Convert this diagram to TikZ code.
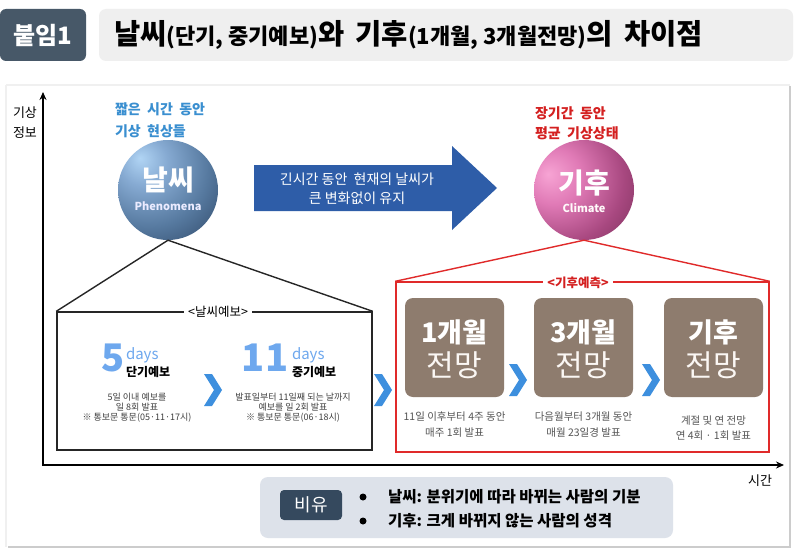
\documentclass[tikz,border=0pt]{standalone}
\usepackage{fontspec}
\setmainfont{Noto Sans CJK KR}
\usetikzlibrary{arrows.meta}
\definecolor{titledark}{HTML}{475868}
\definecolor{titlelight}{HTML}{EFEFEF}
\definecolor{skyblue}{HTML}{3A8FD0}
\definecolor{arrowblue}{HTML}{2E5DA8}
\definecolor{redline}{HTML}{E02A2A}
\definecolor{redtext}{HTML}{D42020}
\definecolor{brownbox}{HTML}{8E7C6E}
\definecolor{chevblue}{HTML}{3D8FDE}
\definecolor{daysblue}{HTML}{6EA8EE}
\definecolor{analog}{HTML}{DDE2EA}
\definecolor{analogdark}{HTML}{35495E}
\definecolor{captgray}{HTML}{555555}
\definecolor{sphBL}{HTML}{B0D4F4}
\definecolor{sphBX}{HTML}{86AAD2}
\definecolor{sphBM}{HTML}{56799F}
\definecolor{sphBD}{HTML}{1C304C}
\definecolor{sphPL}{HTML}{F7A4D4}
\definecolor{sphPX}{HTML}{E07AB6}
\definecolor{sphPM}{HTML}{A84880}
\definecolor{sphPD}{HTML}{5A2040}
\pgfdeclareradialshading{bluesph}{\pgfpoint{-14bp}{16bp}}{color(0bp)=(sphBL); color(12bp)=(sphBX); color(30bp)=(sphBM); color(56bp)=(sphBD); color(100bp)=(sphBD)}
\pgfdeclareradialshading{pinksph}{\pgfpoint{-18bp}{8bp}}{color(0bp)=(sphPL); color(14bp)=(sphPX); color(32bp)=(sphPM); color(58bp)=(sphPD); color(100bp)=(sphPD)}
\newcommand{\fsz}[2]{\fontsize{#1}{#2}\selectfont}
\tikzset{
  txt/.style={inner sep=0pt, outer sep=0pt},
  axisline/.style={line width=2.4pt, {Stealth[length=8pt,width=7pt]}-{Stealth[length=8pt,width=7pt]}},
  bline/.style={line width=1.4pt, black!85},
  rline/.style={line width=1.4pt, redline},
  brownbx/.style={fill=brownbox, rounded corners=8pt, minimum width=99pt, minimum height=99pt, inner sep=0pt},
  framelight/.style={line width=2pt, gray!12},
  frameshadow/.style={line width=2.5pt, gray!40},
  chevron/.style={fill=chevblue},
  caption/.style={txt, align=center, text=captgray},
}
\begin{document}
\begin{tikzpicture}[x=1pt,y=-1pt]
\useasboundingbox (0,0) rectangle (797,559);
\fill[white] (0,0) rectangle (797,559);
% frame
\draw[framelight] (6,85) -- (790,85);
\draw[framelight] (6,85) -- (6,547);
\draw[frameshadow] (790,86) -- (790,547) -- (8,547);
% title bar
\node[fill=titledark, rounded corners=6pt, minimum width=86pt, minimum height=52pt, inner sep=0pt] (tag) at (43,35) {};
\node[txt, text=white, font=\bfseries\fsz{24}{26}] (tagtxt) at (43,35) {붙임1};
\node[fill=titlelight, rounded corners=7pt, minimum width=694pt, minimum height=52pt, inner sep=0pt] (tbar) at (446,35) {};
\node[txt, anchor=west, font=\bfseries] (ttl) at (114,35) {\fsz{28.5}{30}날씨\fsz{22}{30}(단기, 중기예보)\fsz{28.5}{30}와 \,기후\fsz{22}{30}(1개월, 3개월전망)\fsz{28.5}{30}의 \,차이점};
% axes
\coordinate (ytop) at (43,92);
\coordinate (origin) at (43,465);
\coordinate (xend) at (784,465);
\draw[axisline] (ytop) -- (origin) -- (xend);
\node[txt, align=center, font=\fsz{13}{20}] (ylab) at (25,123) {기상\\정보};
\node[txt, font=\fsz{13}{15}] (xlab) at (760,481) {시간};
% weather sphere
\node[txt, align=left, anchor=west, text=skyblue, font=\bfseries\fsz{14}{22}] (wdesc) at (115,120) {짧은 \ 시간 \ 동안\\기상 \ 현상들};
\node[circle, minimum size=100pt, inner sep=0pt, shading=bluesph] (wsph) at (168,190) {};
\node[txt, text=white, font=\bfseries\fsz{28}{30}] (wname) at (168,180) {날씨};
\node[txt, text=white!92!blue, font=\bfseries\fsz{11}{12}] (wsub) at (168,206) {Phenomena};
% big arrow
\fill[arrowblue] (254,165) -- (452,165) -- (452,146) -- (497,188) -- (452,230) -- (452,211) -- (254,211) -- cycle;
\node[txt, align=center, text=white, font=\fsz{14}{19}] (arrtxt) at (357,189) {긴시간 동안 \ 현재의 날씨가\\큰 변화없이 유지};
% climate sphere
\node[txt, align=left, anchor=west, text=redtext, font=\bfseries\fsz{14}{20}] (cdesc) at (535,123) {장기간 \ 동안\\평균 \ 기상상태};
\node[circle, minimum size=100pt, inner sep=0pt, shading=pinksph] (csph) at (584,190) {};
\node[txt, text=white, font=\bfseries\fsz{28}{30}] (cname) at (584,183) {기후};
\node[txt, text=white!92!pink, font=\bfseries\fsz{11}{12}] (csub) at (584,208) {Climate};
% weather forecast box
\node[draw=black!85, line width=1.4pt, minimum width=315pt, minimum height=138pt, inner sep=0pt] (wbox) at (214.5,381) {};
\draw[bline] (wsph.south) -- (wbox.north west);
\draw[bline] (wsph.south) -- (wbox.north east);
\node[fill=white, inner sep=4pt, font=\fsz{12.5}{14}] (wlab) at (218,312) {<날씨예보>};
% short-range
\node[txt, text=daysblue, font=\bfseries\fsz{38}{40}] (five) at (113,358) {5};
\node[txt, anchor=west, text=daysblue, font=\fsz{15}{16}] (days1) at (126,355) {days};
\node[txt, anchor=west, font=\bfseries\fsz{12}{14}] (short) at (126,372) {단기예보};
\node[caption, text=black!75, font=\fsz{9}{10}] (shorttxt) at (137,408) {5일 이내 예보를\\일 8회 발표\\※ 통보문 통문(05·11·17시)};
% mid-range
\node[txt, text=daysblue, font=\bfseries\fsz{38}{40}] (eleven) at (265,358) {11};
\node[txt, anchor=west, text=daysblue, font=\fsz{15}{16}] (days2) at (292,355) {days};
\node[txt, anchor=west, font=\bfseries\fsz{12}{14}] (mid) at (292,372) {중기예보};
\node[caption, text=black!75, font=\fsz{9}{10}] (midtxt) at (293,408) {발표일부터 11일째 되는 날까지\\예보를 일 2회 발표\\※ 통보문 통문(06·18시)};
% chevrons
\fill[chevron, shift={(213,390)}] (-9,-16) -- (-1,-16) -- (9,0) -- (-1,16) -- (-9,16) -- (1,0) -- cycle;
\fill[chevron, shift={(383,390)}] (-9,-16) -- (-1,-16) -- (9,0) -- (-1,16) -- (-9,16) -- (1,0) -- cycle;
\fill[chevron, shift={(518,380)}] (-9,-16) -- (-1,-16) -- (9,0) -- (-1,16) -- (-9,16) -- (1,0) -- cycle;
\fill[chevron, shift={(651,380)}] (-9,-16) -- (-1,-16) -- (9,0) -- (-1,16) -- (-9,16) -- (1,0) -- cycle;
% climate forecast box
\node[draw=redline, line width=1.4pt, minimum width=373pt, minimum height=170pt, inner sep=0pt] (cbox) at (582.5,367) {};
\draw[rline] (csph.south) -- (cbox.north west);
\draw[rline] (csph.south) -- (cbox.north east);
\node[fill=white, inner sep=4pt, text=redtext, font=\bfseries\fsz{12.5}{14}] (clab) at (578,283) {<기후예측>};
% brown boxes
\node[brownbx] (m1) at (454.5,347.5) {};
\node[brownbx] (m3) at (583.5,347.5) {};
\node[brownbx] (cl) at (713.5,347.5) {};
\node[txt, text=white, font=\bfseries\fsz{27}{28}] (m1a) at (454.5,332) {1개월};
\node[txt, text=white!94!brown, font=\fsz{30}{30}] (m1b) at (454.5,365) {전망};
\node[txt, text=white, font=\bfseries\fsz{27}{28}] (m3a) at (583.5,332) {3개월};
\node[txt, text=white!94!brown, font=\fsz{30}{30}] (m3b) at (583.5,365) {전망};
\node[txt, text=white, font=\bfseries\fsz{27}{28}] (cla) at (713.5,332) {기후};
\node[txt, text=white!94!brown, font=\fsz{30}{30}] (clb) at (713.5,365) {전망};
\node[caption, font=\fsz{10.5}{16}] (m1c) at (454.5,425) {11일 이후부터 4주 동안\\매주 1회 발표};
\node[caption, font=\fsz{10.5}{16}] (m3c) at (583.5,425) {다음월부터 3개월 동안\\매월 23일경 발표};
\node[caption, font=\fsz{10.5}{15}] (clc) at (713.5,428.5) {계절 및 연 전망\\연 4회 · 1회 발표};
% analogy box
\node[fill=analog, rounded corners=8pt, minimum width=413pt, minimum height=61pt, inner sep=0pt] (anbox) at (466.5,507.5) {};
\node[fill=analogdark, rounded corners=4pt, minimum width=62pt, minimum height=30pt, inner sep=0pt] (antag) at (311,505) {};
\node[txt, text=white, font=\fsz{18}{20}] (antagtxt) at (311,505) {비유};
\node[circle, fill=black, minimum size=7pt, inner sep=0pt] (b1) at (363,497) {};
\node[circle, fill=black, minimum size=7pt, inner sep=0pt] (b2) at (363,521) {};
\node[txt, anchor=west, font=\bfseries\fsz{15.5}{17}] (an1) at (388,497) {날씨: 분위기에 따라 바뀌는 사람의 기분};
\node[txt, anchor=west, font=\bfseries\fsz{15.5}{17}] (an2) at (388,521) {기후: 크게 바뀌지 않는 사람의 성격};
\end{tikzpicture}
\end{document}
